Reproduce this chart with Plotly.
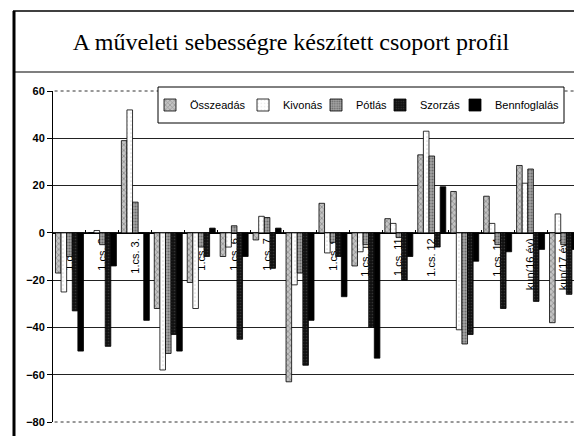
import plotly.graph_objects as go

categories = ["1.cs. 1", "1.cs. 2", "1.cs. 3.", "1.cs. 4", "1.cs. 5", "1.cs. 6", "1.cs. 7",
              "1.cs. 8", "1.cs. 9", "1.cs. 10", "1.cs. 11", "1.cs. 12", "1.cs. 13",
              "1.cs. 14", "kun(16 év)", "kun(17 év)"]

osszeadas = [-17, 0, 39, -32, -21, -10, -3, -63, 12.5, -14, 6, 33, 17.5, 15.5, 28.5, -38]
kivonas = [-25, 1, 52, -58, -32, -6, 7, -22, -8.5, -8, 4, 43, -41, 4, 21, 8]
potlas = [-10, -5, 13, -51, -6, 3, 6.5, -17, -4, -5, -2, 32.5, -47, -5, 27, -5]
szorzas = [-33, -48, 0, -43, -10, -45, -15, -56, -10, -40, -20, -6, -43, -32, -29, -26]
bennfoglalas = [-50, -14, -37, -50, 2, -10, 2, -37, -27, -53, -10, 19.5, -12, -8, -7, -7]

series_names = ["Összeadás", "Kivonás", "Pótlás", "Szorzás", "Bennfoglalás"]
series_values = [osszeadas, kivonas, potlas, szorzas, bennfoglalas]
styles = [
    dict(color="#c4c4c4", pattern=dict(shape="x", fgcolor="#555555", size=4, solidity=0.35)),
    dict(color="#ffffff", pattern=dict(shape=".", fgcolor="#bbbbbb", size=4, solidity=0.15)),
    dict(color="#a4a4a4", pattern=dict(shape=".", fgcolor="#333333", size=3, solidity=0.4)),
    dict(color="#111111", pattern=dict(shape=".", fgcolor="#555555", size=3, solidity=0.25)),
    dict(color="#000000"),
]

FONT = "Arial, Liberation Sans, sans-serif"

# The page body has an 8px margin; the figure is sized so it ends at the window edge.
OFF = 8
W, H = 582 - OFF, 436 - OFF
PL, PR, PT, PB = 53, 580, 91, 422   # plot area in screenshot pixels


def px(x):
    return (x - PL) / float(PR - PL)


def py(y):
    return (PB - y) / float(PB - PT)


legend_lefts = [150, 243, 316, 380, 455]
legend_keys = ["legend", "legend2", "legend3", "legend4", "legend5"]

fig = go.Figure()
for name, vals, st, lk in zip(series_names, series_values, styles, legend_keys):
    fig.add_trace(go.Bar(
        x=categories, y=vals, name=name, legend=lk,
        marker=dict(line=dict(color="#000000", width=0.8), **st),
    ))

shapes = [
    # plot area top / bottom / right borders (dotted, as in the scan)
    dict(type="line", xref="paper", yref="paper", x0=0.003, x1=1, y0=1, y1=1,
         line=dict(color="#ffffff", width=1.5), layer="above"),
    dict(type="line", xref="paper", yref="paper", x0=0.003, x1=1, y0=1, y1=1,
         line=dict(color="#333333", width=1, dash="dot"), layer="above"),
    dict(type="line", xref="paper", yref="paper", x0=0.003, x1=1, y0=0, y1=0,
         line=dict(color="#ffffff", width=1.5), layer="above"),
    dict(type="line", xref="paper", yref="paper", x0=0.003, x1=1, y0=0, y1=0,
         line=dict(color="#333333", width=1, dash="dot"), layer="above"),
    dict(type="line", xref="paper", yref="paper", x0=1, x1=1, y0=0, y1=1,
         line=dict(color="#333333", width=1, dash="dot")),
    # outer chart frame
    dict(type="line", xref="paper", yref="paper", x0=px(14), x1=px(14), y0=py(440), y1=py(11),
         line=dict(color="#000000", width=3)),
    dict(type="line", xref="paper", yref="paper", x0=px(13), x1=px(590), y0=py(11), y1=py(11),
         line=dict(color="#000000", width=1.5)),
    dict(type="line", xref="paper", yref="paper", x0=px(14), x1=px(590), y0=py(72), y1=py(72),
         line=dict(color="#000000", width=1.2)),
    # legend box
    dict(type="rect", xref="paper", yref="paper", x0=px(158), x1=px(564), y0=py(123), y1=py(87),
         fillcolor="white", line=dict(color="#000000", width=1), layer="above"),
]

legend_common = dict(orientation="h", yanchor="middle", xanchor="left",
                     bgcolor="rgba(0,0,0,0)", borderwidth=0,
                     font=dict(family=FONT, size=11, color="#000000"), itemwidth=30)
legends = {}
for lk, left in zip(legend_keys, legend_lefts):
    legends[lk] = dict(x=px(left), y=py(105), **legend_common)

fig.update_layout(
    width=W, height=H,
    margin=dict(l=PL - OFF, r=W - (PR - OFF), t=PT - OFF, b=H - (PB - OFF), autoexpand=False),
    paper_bgcolor="white", plot_bgcolor="white",
    barmode="group", bargap=0.15, bargroupgap=0,
    title=dict(text="A műveleti sebességre készített csoport profil",
               x=(291 - OFF) / W, xref="container", xanchor="center",
               y=(H - (42 - OFF)) / H, yref="container", yanchor="middle",
               font=dict(family="Times New Roman, Liberation Serif, serif", size=24, color="#000000")),
    font=dict(family=FONT, color="#000000"),
    showlegend=True,
    xaxis=dict(type="category", anchor="free", position=80 / 140.0,
               showline=True, linecolor="#000000", linewidth=1,
               ticks="inside", ticklen=3, tickcolor="#000000", tickson="boundaries",
               tickangle=-90, tickfont=dict(family=FONT, size=11, color="#000000"),
               showgrid=False, layer="below traces", automargin=False),
    yaxis=dict(range=[-80, 60], dtick=20, tick0=0,
               showline=True, linecolor="#000000", linewidth=1,
               ticks="outside", ticklen=5, tickcolor="#000000",
               showgrid=True, gridcolor="#222222", gridwidth=1, zeroline=False,
               tickfont=dict(family=FONT, size=11, color="#000000", weight="bold"),
               automargin=False),
    shapes=shapes,
    **legends,
)

fig.write_html("out.html")
